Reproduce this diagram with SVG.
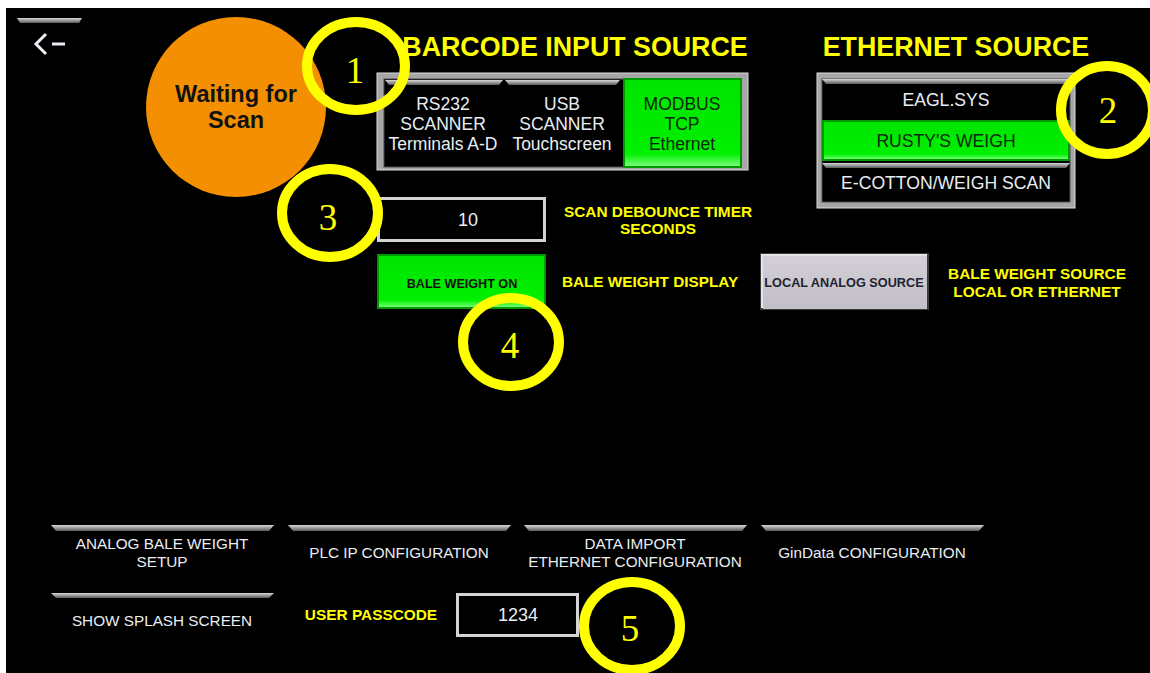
<svg xmlns="http://www.w3.org/2000/svg" width="1150" height="673" viewBox="0 0 1150 673">
  <defs>
    <linearGradient id="bevel" x1="0" y1="0" x2="0" y2="1">
      <stop offset="0" stop-color="#d8d8d8"/>
      <stop offset="1" stop-color="#5a5a5a"/>
    </linearGradient>
    <linearGradient id="greenFace" x1="0" y1="0" x2="0" y2="1">
      <stop offset="0" stop-color="#00e400"/>
      <stop offset="0.85" stop-color="#00f000"/>
      <stop offset="1" stop-color="#80ff80"/>
    </linearGradient>
    <linearGradient id="grayFace" x1="0" y1="0" x2="0" y2="1">
      <stop offset="0" stop-color="#d2d0d6"/>
      <stop offset="1" stop-color="#c2c0c6"/>
    </linearGradient>
  </defs>
  <style>
    .lbl { font-family: "Liberation Sans", Arial, sans-serif; fill: #e8eef4; text-anchor: middle; }
    .on { fill: #0c280c; }
    .ylw { font-family: "Liberation Sans", Arial, sans-serif; font-weight: bold; fill: #ffff00; text-anchor: middle; }
    .dark { font-family: "Liberation Sans", Arial, sans-serif; font-weight: bold; fill: #111111; text-anchor: middle; }
    .mark { fill: none; stroke: #ffff00; stroke-width: 10; }
    .num { font-family: "Liberation Serif", "Times New Roman", serif; font-size: 37px; fill: #ffff00; text-anchor: middle; }
    .bev { fill: url(#bevel); }
    .field { fill: #000000; stroke: #d4d4d4; stroke-width: 3; }
    .frame { fill: #a6a6a6; stroke: #dcdcdc; stroke-width: 1; }
    .well { fill: #000000; stroke: #4a4a4a; stroke-width: 1; }
    .gbtn { fill: url(#greenFace); stroke: #009a00; stroke-width: 2; }
  </style>

  <!-- screen background -->
  <rect x="0" y="0" width="1150" height="673" fill="#ffffff"/>
  <rect x="6" y="8" width="1144" height="665" fill="#000000"/>

  <!-- back button -->
  <g id="back-button">
    <path class="bev" d="M17,18 L82,18 L79,23 L20,23 Z"/>
    <path d="M46,34 L36,44 L46,54" fill="none" stroke="#e8eef4" stroke-width="3"/>
    <line x1="52" y1="44" x2="65" y2="44" stroke="#e8eef4" stroke-width="3"/>
  </g>

  <!-- scan status lamp -->
  <g id="scan-status">
    <circle cx="236" cy="107" r="90" fill="#f38f00"/>
    <text class="dark" x="236" y="102" font-size="23.5">Waiting for</text>
    <text class="dark" x="236" y="128" font-size="23.5">Scan</text>
  </g>

  <!-- section headings -->
  <g id="headings">
    <text class="ylw" x="575" y="56" font-size="26.8">BARCODE INPUT SOURCE</text>
    <text class="ylw" x="956" y="56" font-size="26.8">ETHERNET SOURCE</text>
  </g>

  <!-- barcode input source selector -->
  <g id="barcode-source">
    <rect class="frame" x="377" y="73" width="371" height="97"/>
    <rect class="well" x="384" y="79" width="357" height="88"/>
    <path class="bev" d="M385,80 L503,80 L499,85 L389,85 Z"/>
    <path class="bev" d="M505,80 L620,80 L616,85 L509,85 Z"/>
    <rect class="gbtn" x="624" y="79" width="117" height="88"/>
    <text class="lbl" x="443" y="110" font-size="17.5">RS232</text>
    <text class="lbl" x="443" y="130" font-size="17.5">SCANNER</text>
    <text class="lbl" x="443" y="150" font-size="17.5">Terminals A-D</text>
    <text class="lbl" x="562" y="110" font-size="17.5">USB</text>
    <text class="lbl" x="562" y="130" font-size="17.5">SCANNER</text>
    <text class="lbl" x="562" y="150" font-size="17.5">Touchscreen</text>
    <text class="lbl on" x="682" y="110" font-size="17.5">MODBUS</text>
    <text class="lbl on" x="682" y="130" font-size="17.5">TCP</text>
    <text class="lbl on" x="682" y="150" font-size="17.5">Ethernet</text>
  </g>

  <!-- ethernet source selector -->
  <g id="ethernet-source">
    <rect class="frame" x="817" y="73" width="258" height="135"/>
    <rect class="well" x="822" y="79" width="248" height="123"/>
    <path class="bev" d="M822,79 L1070,79 L1066,84 L826,84 Z"/>
    <rect class="gbtn" x="823" y="121" width="246" height="39"/>
    <path class="bev" d="M822,163 L1070,163 L1066,168 L826,168 Z"/>
    <text class="lbl" x="946" y="106" font-size="17.6">EAGL.SYS</text>
    <text class="lbl on" x="946" y="147" font-size="17.6">RUSTY'S WEIGH</text>
    <text class="lbl" x="946" y="189" font-size="17.6">E-COTTON/WEIGH SCAN</text>
  </g>

  <!-- debounce timer entry -->
  <g id="debounce-timer">
    <rect class="field" x="378.5" y="198.5" width="166" height="42"/>
    <text class="lbl" x="468" y="226" font-size="18">10</text>
    <text class="ylw" x="658" y="217" font-size="15.4">SCAN DEBOUNCE TIMER</text>
    <text class="ylw" x="658" y="234" font-size="15.4">SECONDS</text>
  </g>

  <!-- bale weight display toggle -->
  <g id="bale-weight-display">
    <rect class="gbtn" x="378" y="255" width="167" height="53"/>
    <text class="dark" x="462" y="288" font-size="12.6">BALE WEIGHT ON</text>
    <text class="ylw" x="650" y="287" font-size="15.3">BALE WEIGHT DISPLAY</text>
  </g>

  <!-- bale weight source toggle -->
  <g id="bale-weight-source">
    <rect x="760" y="253" width="169" height="57" fill="#3c3c3c"/>
    <rect x="761" y="254" width="166" height="54" fill="#e4e4e8"/>
    <rect x="763" y="256" width="164" height="53" fill="url(#grayFace)"/>
    <text class="dark" x="844" y="287" font-size="12.7" style="fill:#222233">LOCAL ANALOG SOURCE</text>
    <text class="ylw" x="1037" y="279" font-size="15.4">BALE WEIGHT SOURCE</text>
    <text class="ylw" x="1037" y="297" font-size="15.4">LOCAL OR ETHERNET</text>
  </g>

  <!-- navigation buttons -->
  <g id="nav-analog-setup">
    <path class="bev" d="M51,525 L274,525 L269,531 L56,531 Z"/>
    <text class="lbl" x="162" y="549" font-size="15.3">ANALOG BALE WEIGHT</text>
    <text class="lbl" x="162" y="567" font-size="15.3">SETUP</text>
  </g>
  <g id="nav-plc-ip">
    <path class="bev" d="M288,525 L511,525 L506,531 L293,531 Z"/>
    <text class="lbl" x="399" y="558" font-size="15.3">PLC IP CONFIGURATION</text>
  </g>
  <g id="nav-data-import">
    <path class="bev" d="M524,525 L747,525 L742,531 L529,531 Z"/>
    <text class="lbl" x="635" y="549" font-size="15.3">DATA IMPORT</text>
    <text class="lbl" x="635" y="567" font-size="15.3">ETHERNET CONFIGURATION</text>
  </g>
  <g id="nav-gindata">
    <path class="bev" d="M761,525 L984,525 L979,531 L766,531 Z"/>
    <text class="lbl" x="872" y="558" font-size="15.3">GinData CONFIGURATION</text>
  </g>
  <g id="nav-splash">
    <path class="bev" d="M51,593 L274,593 L269,598 L56,598 Z"/>
    <text class="lbl" x="162" y="626" font-size="15.3">SHOW SPLASH SCREEN</text>
  </g>

  <!-- passcode entry -->
  <g id="user-passcode">
    <text class="ylw" x="371" y="620" font-size="15.4">USER PASSCODE</text>
    <rect class="field" x="457.5" y="594.5" width="120" height="41"/>
    <text class="lbl" x="518" y="621" font-size="18">1234</text>
  </g>

  <!-- numbered callouts -->
  <g id="callouts">
    <ellipse class="mark" cx="356" cy="66" rx="49" ry="44"/>
    <text class="num" x="355" y="83">1</text>
    <ellipse class="mark" cx="1107" cy="110" rx="46" ry="44"/>
    <text class="num" x="1108" y="123">2</text>
    <ellipse class="mark" cx="330" cy="213" rx="48" ry="44"/>
    <text class="num" x="328" y="230">3</text>
    <ellipse class="mark" cx="511" cy="342" rx="48" ry="44"/>
    <text class="num" x="510" y="358">4</text>
    <ellipse class="mark" cx="632" cy="626" rx="48" ry="44"/>
    <text class="num" x="630" y="641">5</text>
  </g>
</svg>
